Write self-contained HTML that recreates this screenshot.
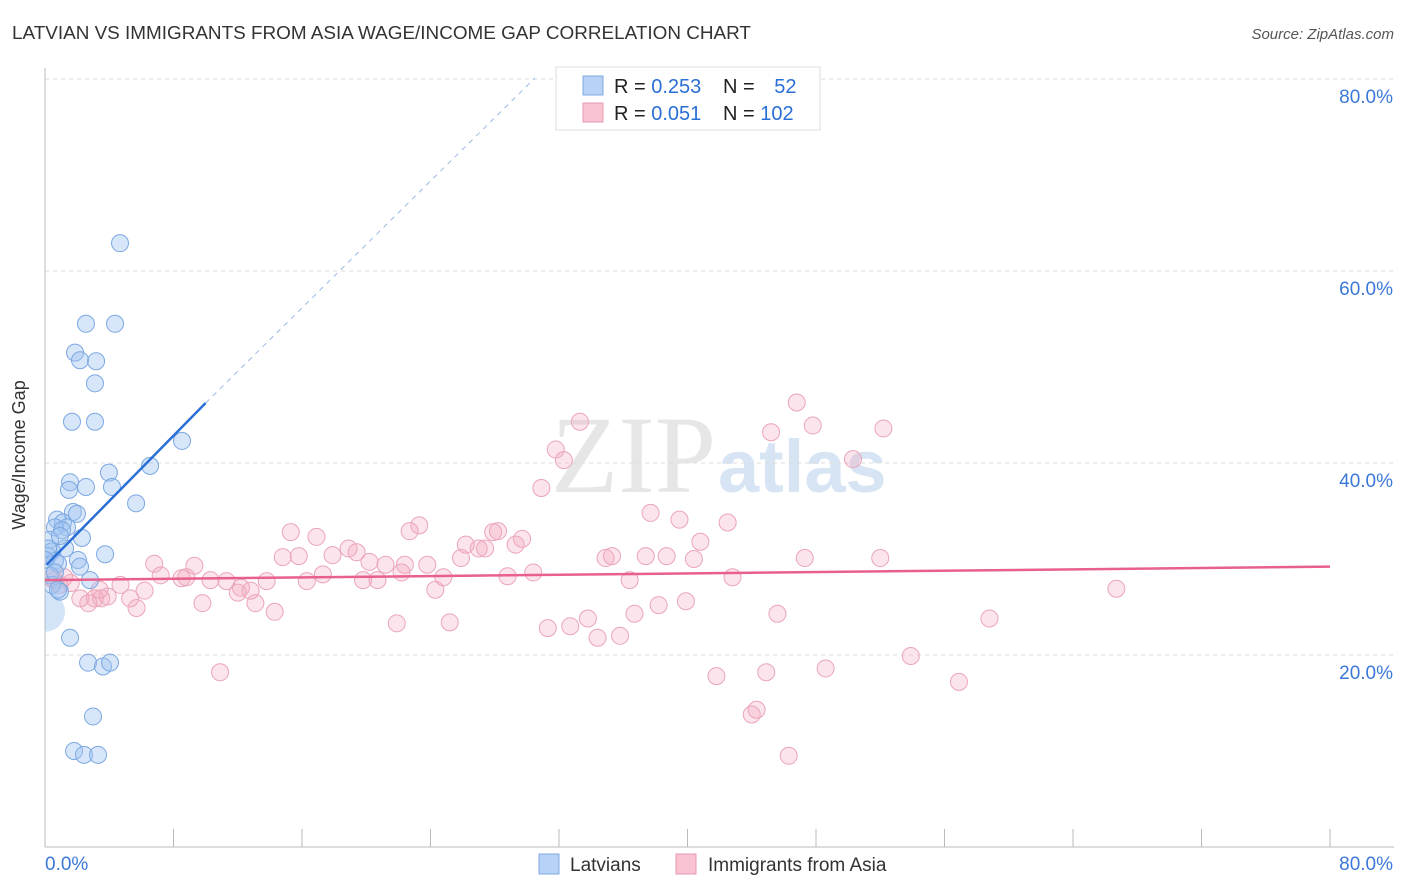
<!DOCTYPE html>
<html><head><meta charset="utf-8"><style>
body{margin:0;background:#fff;font-family:"Liberation Sans",sans-serif;}
svg{display:block}
</style></head><body>
<svg id="chart" width="1406" height="892">
<defs><clipPath id="plotclip"><rect x="45" y="60" width="1360" height="787"/></clipPath></defs>
<text x="12" y="39" font-size="18.9" fill="#333">LATVIAN VS IMMIGRANTS FROM ASIA WAGE/INCOME GAP CORRELATION CHART</text>
<text x="1394" y="39" font-size="15" fill="#555" text-anchor="end" font-style="italic">Source: ZipAtlas.com</text>
<text x="716" y="492" font-size="110" fill="#e6e6e6" text-anchor="end" font-family="Liberation Serif,serif">ZIP</text>
<text x="718" y="492" font-size="74" fill="#d6e4f4" font-weight="bold">atlas</text>
<g id="grid"></g>
<g id="axes"></g>
<g id="pts" clip-path="url(#plotclip)"></g>
<g id="lines"></g>
<text x="25" y="455" font-size="18" fill="#333" text-anchor="middle" transform="rotate(-90 25 455)">Wage/Income Gap</text>
<g>
<rect x="556" y="67" width="264" height="63" fill="#fff" stroke="#ddd"/>
<rect x="583" y="76" width="20" height="19" fill="#b7d2f6" stroke="#7fa9e0"/>
<rect x="583" y="103" width="20" height="19" fill="#f9c3d2" stroke="#e89ab0"/>
<text x="614" y="93" font-size="20" fill="#222">R = <tspan fill="#2a6fd6">0.253</tspan></text>
<text x="723" y="93" font-size="20" fill="#222">N = <tspan fill="#2a6fd6" dx="14">52</tspan></text>
<text x="614" y="120" font-size="20" fill="#222">R = <tspan fill="#2a6fd6">0.051</tspan></text>
<text x="723" y="120" font-size="20" fill="#222">N = <tspan fill="#2a6fd6">102</tspan></text>
</g>
<g>
<rect x="539" y="854" width="20" height="20" fill="#b7d2f6" stroke="#7fa9e0"/>
<text x="570" y="871" font-size="19" fill="#333">Latvians</text>
<rect x="676" y="854" width="20" height="20" fill="#f9c3d2" stroke="#e89ab0"/>
<text x="708" y="871" font-size="19" fill="#333">Immigrants from Asia</text>
</g>
</svg>
<script>
const yTicks=[20,40,60,80];
const yTickLabels=["20.0%","40.0%","60.0%","80.0%"];
const xTicks=[0,8,16,24,32,40,48,56,64,72,80];
const blueX=[4.67,2.55,4.36,1.87,2.18,3.18,3.11,1.68,3.11,8.53,6.54,3.98,1.56,2.55,1.49,4.17,5.67,1.74,1.99,0.75,1.12,1.37,0.62,1.06,2.30,0.31,1.25,0.44,0.19,3.74,2.05,2.18,0.62,0.81,2.80,0.93,1.56,2.68,3.61,4.05,2.99,1.81,2.43,3.30,0.31,0.44,0.19,0.93,0,0.81,0.62];
const blueY=[62.9,54.5,54.5,51.5,50.7,50.6,48.3,44.3,44.3,42.3,39.7,39.0,38.0,37.5,37.2,37.5,35.8,34.9,34.7,34.1,33.8,33.3,33.3,33.0,32.2,32.0,31.1,30.8,30.3,30.5,29.9,29.2,29.8,29.5,27.8,26.6,21.8,19.2,18.8,19.2,13.6,10.0,9.6,9.6,28.3,27.3,31.1,32.4,29.9,26.8,28.6];
const blueBigX=0, blueBigY=24.5;
const pinkX=[33.3,46.8,47.8,45.2,52.2,31.8,32.3,50.3,30.9,37.7,39.5,42.5,23.3,22.7,15.3,16.9,17.9,18.9,19.4,20.2,21.2,22.4,23.8,26.2,27.0,27.4,27.9,28.2,29.3,29.7,25.9,14.8,15.8,34.9,35.3,37.4,38.7,40.4,40.8,47.3,52.0,66.7,6.8,9.3,7.2,8.5,8.8,10.3,11.3,12.2,13.8,16.3,17.3,19.8,20.7,22.2,24.8,28.8,30.4,36.4,42.8,12.0,13.1,14.3,9.8,5.7,5.3,3.9,3.1,2.7,3.5,2.2,1.6,0.9,0.4,4.7,6.2,24.3,12.8,38.2,39.9,36.7,33.8,31.3,32.7,34.4,35.8,21.9,25.2,45.6,58.8,53.9,10.9,41.8,44.9,48.6,56.9,44.0,44.3,46.3,0.6,1.2,3.4];
const pinkY=[44.3,46.3,43.9,43.2,43.6,41.4,40.3,40.4,37.4,34.8,34.1,33.8,33.5,32.9,32.8,32.3,30.4,31.1,30.7,29.7,29.4,29.4,29.4,31.5,31.1,31.1,32.8,32.9,31.5,32.1,30.1,30.2,30.3,30.1,30.3,30.3,30.3,30.0,31.8,30.1,30.1,26.9,29.5,29.3,28.3,28.0,28.1,27.8,27.7,27.0,27.7,27.7,28.4,27.8,27.8,28.6,28.1,28.2,28.6,27.8,28.1,26.5,25.4,24.5,25.4,24.9,25.9,26.1,25.9,25.4,25.9,25.9,27.5,27.3,28.0,27.3,26.7,26.8,26.7,25.2,25.6,24.3,23.8,22.8,23.0,21.8,22.0,23.3,23.4,24.3,23.8,19.9,18.2,17.8,18.2,18.6,17.2,13.8,14.3,9.5,27.8,28.1,26.8];
const blueTrend=[[0.1,29.4],[10.0,46.25],[30.5,80.1]];
const pinkTrend=[[0,27.8],[80,29.2]];

const NS="http://www.w3.org/2000/svg";
const X=v=>45+v/80*1285;
const Y=v=>847-v/20*192;
function mk(tag,attrs,parent){const e=document.createElementNS(NS,tag);for(const k in attrs)e.setAttribute(k,attrs[k]);document.getElementById(parent).appendChild(e);return e;}
yTicks.forEach((t,i)=>{
  const l=mk('line',{x1:45,x2:1394,y1:Y(t),y2:Y(t),stroke:'#ddd','stroke-dasharray':'4,4'},'grid');
  
  
  const tx=mk('text',{x:1393,y:Y(t)+24,'font-size':19,fill:'#3b78d8','text-anchor':'end'},'grid');
  tx.textContent=yTickLabels[i];
  
  
});
const ax=mk('line',{x1:45,x2:45,y1:68,y2:847,stroke:'#bbb'},'axes');


const bx=mk('line',{x1:45,x2:1394,y1:847,y2:847,stroke:'#bbb'},'axes');


xTicks.forEach(t=>{
  const l=mk('line',{x1:X(t),x2:X(t),y1:829,y2:847,stroke:'#bbb'},'axes');
  
  
});
const x0=mk('text',{x:45,y:870,'font-size':19,fill:'#3b78d8'},'axes');x0.textContent='0.0%';


const x1=mk('text',{x:1393,y:870,'font-size':19,fill:'#3b78d8','text-anchor':'end'},'axes');x1.textContent='80.0%';


pinkX.forEach((v,i)=>{
  const c=mk('circle',{cx:X(v),cy:Y(pinkY[i]),r:8.5,fill:'rgba(244,170,192,0.32)',stroke:'#eba5ba','stroke-width':1},'pts');
  
  
});
const big=mk('circle',{cx:X(blueBigX),cy:Y(blueBigY),r:20,fill:'rgba(160,196,240,0.45)',stroke:'none'},'pts');


blueX.forEach((v,i)=>{
  const c=mk('circle',{cx:X(v),cy:Y(blueY[i]),r:8.5,fill:'rgba(160,196,240,0.42)',stroke:'#7ca8e2','stroke-width':1},'pts');
  
  
});
const bl=mk('line',{x1:X(blueTrend[0][0]),y1:Y(blueTrend[0][1]),x2:X(blueTrend[1][0]),y2:Y(blueTrend[1][1]),stroke:'#2a6fd6','stroke-width':2.5},'lines');


const bd=mk('line',{x1:X(blueTrend[1][0]),y1:Y(blueTrend[1][1]),x2:X(blueTrend[2][0]),y2:Y(blueTrend[2][1]),stroke:'#9ab8e6','stroke-width':1,'stroke-dasharray':'5,5'},'lines');


const pl=mk('line',{x1:X(pinkTrend[0][0]),y1:Y(pinkTrend[0][1]),x2:X(pinkTrend[1][0]),y2:Y(pinkTrend[1][1]),stroke:'#e8608c','stroke-width':2.5},'lines');


</script>
</body></html>
